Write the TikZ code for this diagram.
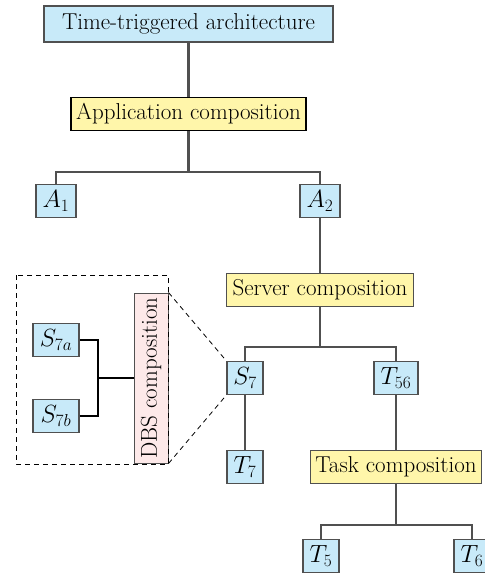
\documentclass[tikz,border=0pt]{standalone}
\usepackage{xcolor}

\definecolor{leafblue}{HTML}{C8EAF9}
\definecolor{compyellow}{HTML}{FFF6AA}
\definecolor{dbspink}{HTML}{FDE9E9}
\definecolor{edgegray}{HTML}{505050}

\begin{document}
\begin{tikzpicture}[
  x=1pt, y=-1pt,
  every node/.style={font=\fontsize{23}{27}\selectfont},
  leaf/.style={draw=edgegray, line width=1.4pt, fill=leafblue, inner xsep=4pt, minimum width=36pt, minimum height=33pt},
  comp/.style={draw=edgegray, line width=1.4pt, fill=compyellow, inner xsep=5pt, minimum height=33pt},
  dbs/.style={draw=edgegray, line width=1pt, fill=dbspink, rotate=90, minimum width=170pt, minimum height=34pt},
  tree/.style={draw=edgegray, line width=2.3pt},
  sub/.style={draw=black, line width=1.3pt},
  zoomline/.style={line width=0.8pt, dash pattern=on 5pt off 4pt}
]
  \useasboundingbox (0,0) rectangle (485,574);

  % main tree
  \node[leaf, minimum width=289pt, minimum height=36pt] (tta) at (188.5,24) {Time-triggered architecture};
  \node[comp, draw=black, minimum width=235pt] (app) at (188.5,114) {Application composition};
  \node[leaf, minimum width=40pt] (a1) at (56,201) {$A_1$};
  \node[leaf, minimum width=40pt] (a2) at (320,201) {$A_2$};
  \node[comp, minimum width=187pt] (server) at (320,290) {Server composition};
  \node[leaf] (s7) at (245,378) {$S_7$};
  \node[leaf, minimum width=44pt] (t56) at (396,378) {$T_{56}$};
  \node[leaf] (t7) at (245,467) {$T_7$};
  \node[comp, minimum width=170pt] (task) at (396,467) {Task composition};
  \node[leaf] (t5) at (321,556) {$T_5$};
  \node[leaf] (t6) at (472,556) {$T_6$};

  % zoomed DBS part
  \node[dbs] (dbs) at (151,378) {DBS composition};
  \node[leaf, minimum width=46pt] (s7a) at (56,340) {$S_{7a}$};
  \node[leaf, minimum width=46pt] (s7b) at (56,416) {$S_{7b}$};
  \coordinate (join) at (98,378);

  \draw[tree] (tta) -- (app);
  \draw[tree] (app.south) -- ++(0,41) -| (a1.north);
  \draw[tree] (app.south) -- ++(0,41) -| (a2.north);
  \draw[tree] (a2) -- (server);
  \draw[tree] (server.south) -- ++(0,40) -| (s7.north);
  \draw[tree] (server.south) -- ++(0,40) -| (t56.north);
  \draw[tree] (s7) -- (t7);
  \draw[tree] (t56) -- (task);
  \draw[tree] (task.south) -- ++(0,41) -| (t5.north);
  \draw[tree] (task.south) -- ++(0,41) -| (t6.north);

  \draw[sub] (s7a.east) -| (join);
  \draw[sub] (s7b.east) -| (join);
  \draw[sub] (join) -- (dbs.north);

  \draw[zoomline] (16,275) rectangle (168,464);
  \draw[zoomline] (dbs.south east) -- (s7.north west);
  \draw[zoomline] (dbs.south west) -- (s7.south west);
\end{tikzpicture}
\end{document}
